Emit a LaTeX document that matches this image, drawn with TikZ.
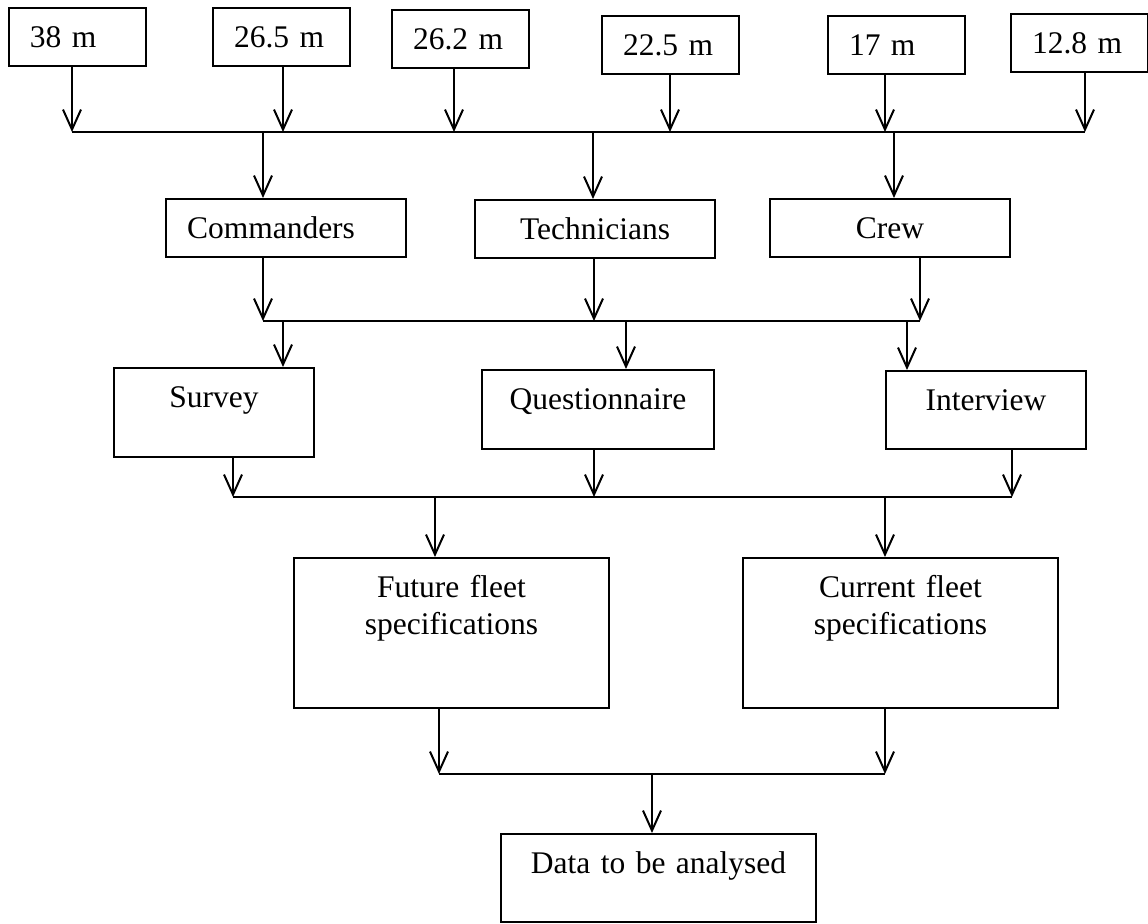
\documentclass[tikz,border=0pt]{standalone}
\usepackage{fontspec}
\setmainfont{Liberation Serif}
\usetikzlibrary{arrows.meta}

\begin{document}
\begin{tikzpicture}[x=0.5pt, y=-0.5pt,
  basebox/.style={draw, line width=1pt, anchor=north west, inner xsep=10.5pt, inner ysep=0pt, text height=20pt, font=\fontsize{15.75}{18.5}\selectfont},
  lenbox/.style={basebox, text width=47.5pt, text depth=9pt, align=left},
  grpbox/.style={basebox, text width=99pt, text depth=9pt, align=center},
  toolbox/.style={basebox, text width=79pt, align=center},
  specbox/.style={basebox, text width=136.5pt, text depth=55pt, align=center},
  arr/.style={line width=1pt, -{Straight Barb[length=10pt, width=9pt]}},
  bus/.style={line width=1pt}]
\useasboundingbox (0,0) rectangle (1148,924);
% Vessel lengths
\node[lenbox] (m38) at (8,7) {38 m};
\node[lenbox] (m265) at (212,7) {26.5 m};
\node[lenbox] (m262) at (391,9) {26.2 m};
\node[lenbox] (m225) at (601,15) {22.5 m};
\node[lenbox] (m17) at (827,15) {17 m};
\node[lenbox] (m128) at (1010,13) {12.8 m};
% Groups
\node[grpbox, align=left] (cmd) at (165,198) {Commanders};
\node[grpbox] (tech) at (474,199) {Technicians};
\node[grpbox] (crew) at (769,198) {Crew};
% Methods
\node[toolbox, text depth=24.5pt] (survey) at (113,367) {Survey};
\node[toolbox, text width=95pt, text depth=19.5pt] (quest) at (481,369) {Questionnaire};
\node[toolbox, text depth=19pt] (intv) at (885,370) {Interview};
% Specifications
\node[specbox] (future) at (293,557) {Future fleet\\specifications};
\node[specbox] (current) at (742,557) {Current fleet\\specifications};
\node[specbox, text depth=24pt] (data) at (500,833) {Data to be analysed};
% Lengths to groups
\foreach \n/\x in {m38/72, m265/283, m262/454, m225/670, m17/885, m128/1085}{
  \coordinate (\n-out) at (\x,132);
  \draw[arr] (\n.south -| \n-out) -- (\n-out);
}
\draw[bus] (m38-out) -- (m128-out);
\foreach \n/\x in {cmd/263, tech/593, crew/894}{
  \coordinate (\n-in) at (\x,132);
  \draw[arr] (\n-in) -- (\n-in |- \n.north);
}
% Groups to methods
\foreach \n/\x in {cmd/263, tech/594, crew/920}{
  \coordinate (\n-out) at (\x,321);
  \draw[arr] (\n.south -| \n-out) -- (\n-out);
}
\draw[bus] (cmd-out) -- (crew-out);
\foreach \n/\x in {survey/283, quest/626, intv/907}{
  \coordinate (\n-in) at (\x,321);
  \draw[arr] (\n-in) -- (\n-in |- \n.north);
}
% Methods to specifications
\foreach \n/\x in {survey/233, quest/594, intv/1012}{
  \coordinate (\n-out) at (\x,497);
  \draw[arr] (\n.south -| \n-out) -- (\n-out);
}
\draw[bus] (survey-out) -- (intv-out);
\foreach \n/\x in {future/435, current/885}{
  \coordinate (\n-in) at (\x,497);
  \draw[arr] (\n-in) -- (\n-in |- \n.north);
}
% Specifications to data
\foreach \n/\x in {future/439, current/885}{
  \coordinate (\n-out) at (\x,774);
  \draw[arr] (\n.south -| \n-out) -- (\n-out);
}
\draw[bus] (future-out) -- (current-out);
\coordinate (data-in) at (652,774);
\draw[arr] (data-in) -- (data-in |- data.north);
\end{tikzpicture}
\end{document}
